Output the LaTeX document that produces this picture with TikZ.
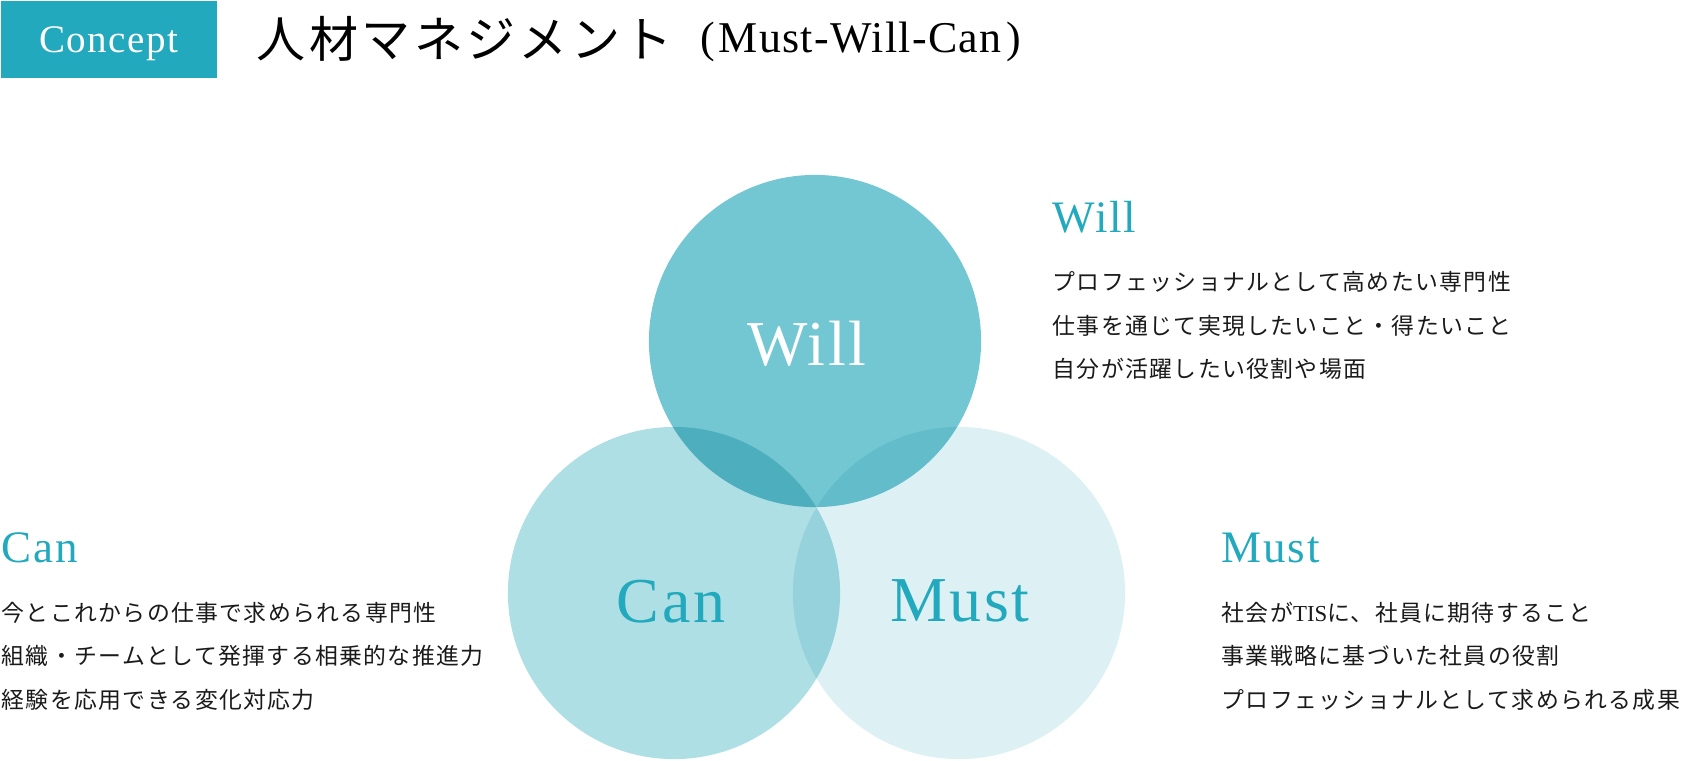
\documentclass[tikz,border=0pt]{standalone}
\usepackage{fontspec}
\setmainfont{Liberation Serif}
\newfontfamily\labelfont[LetterSpace=4]{Liberation Serif}
\newfontfamily\subfont[LetterSpace=3]{Liberation Serif}
\newfontfamily\jptitle[LetterSpace=7]{Noto Sans CJK JP}
\newfontfamily\jpbody[LetterSpace=6]{Noto Sans CJK JP}
\definecolor{tealmain}{HTML}{23A9BD}
\definecolor{willfill}{HTML}{72C7D3}
\definecolor{canfill}{HTML}{ADDFE5}
\definecolor{mustfill}{HTML}{DDF1F4}
\definecolor{inkgray}{HTML}{1A1A1A}

\begin{document}
\begin{tikzpicture}[x=0.01cm, y=-0.01cm,
    venn/.style={circle, minimum size=3.32cm, inner sep=0pt},
    vennlabel/.style={anchor=base, inner sep=0pt,
      font=\labelfont\fontsize{18.2}{20}\selectfont},
    head/.style={anchor=base west, inner sep=0pt, text=tealmain,
      font=\labelfont\fontsize{12.8}{14}\selectfont},
    body/.style={anchor=base west, inner sep=0pt, text=inkgray,
      font=\jpbody\fontsize{6.5}{8}\selectfont}]
  \useasboundingbox (0,0) rectangle (1682,760);

  % title bar
  \node[fill=tealmain, text=white, anchor=north west, inner sep=0pt,
    minimum width=2.16cm, minimum height=0.77cm, text depth=0pt,
    font=\labelfont\fontsize{11.1}{12}\selectfont] (concept) at (0,0) {Concept};
  \node[anchor=base west, inner sep=0pt, text=black,
    font=\jptitle\fontsize{13.94}{16}\selectfont] (title) at (256,57)
    {人材マネジメント};
  \node[anchor=base west, inner sep=0pt, text=black,
    font=\subfont\fontsize{12.5}{14}\selectfont] (subtitle) at (700,52)
    {(\kern1pt Must-Will-Can\kern1.5pt)};

  % circles
  \begin{scope}[blend group=multiply]
    \node[venn, fill=canfill] (can) at (674,593) {};
    \node[venn, fill=mustfill] (must) at (959,593) {};
    \node[venn, fill=willfill] (will) at (815,341) {};
  \end{scope}
  \node[vennlabel, text=white] (will-label) at (807,365) {Will};
  \node[vennlabel, text=tealmain] (can-label) at (671,622) {Can};
  \node[vennlabel, text=tealmain] (must-label) at (960,621) {Must};

  % Will
  \node[head] (will-head) at (1052,232) {Will};
  \foreach \txt [count=\i] in {プロフェッショナルとして高めたい専門性,
      仕事を通じて実現したいこと・得たいこと, 自分が活躍したい役割や場面}
    \node[body] (will-\i) at (1052,{290.5+43.7*(\i-1)}) {\txt};

  % Can
  \node[head] (can-head) at (1,562) {Can};
  \foreach \txt [count=\i] in {今とこれからの仕事で求められる専門性,
      組織・チームとして発揮する相乗的な推進力, 経験を応用できる変化対応力}
    \node[body] (can-\i) at (1,{621+43.5*(\i-1)}) {\txt};

  % Must
  \node[head] (must-head) at (1221,562) {Must};
  \foreach \txt [count=\i] in {{社会が{\rmfamily TIS}に、社員に期待すること},
      事業戦略に基づいた社員の役割, プロフェッショナルとして求められる成果}
    \node[body] (must-\i) at (1221,{621+43.5*(\i-1)}) {\txt};
\end{tikzpicture}
\end{document}
